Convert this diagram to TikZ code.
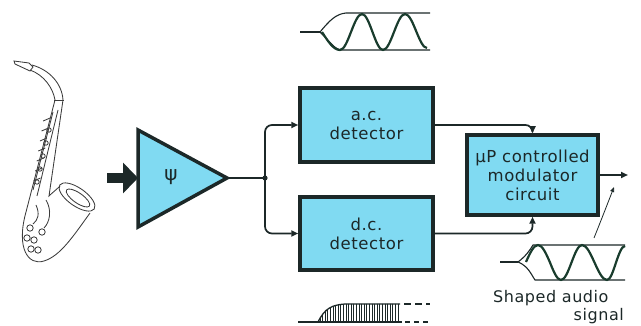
\documentclass[tikz,border=0pt]{standalone}
\usepackage{fontspec}
\setmainfont{DejaVu Sans}[LetterSpace=3.5]
\usetikzlibrary{arrows.meta}
\definecolor{boxfill}{RGB}{128,218,242}
\definecolor{ink}{RGB}{28,40,40}
\definecolor{wave}{RGB}{25,60,45}
\definecolor{sketch}{RGB}{60,60,60}
\tikzset{
  block/.style={draw=ink, line width=3.5pt, fill=boxfill, align=center,
    font=\fontsize{16.5}{19}\selectfont, text=ink, inner sep=0pt},
  wire/.style={draw=ink, line width=1.7pt, rounded corners=7pt},
  tip/.style={-{Triangle[length=7pt,width=6pt]}},
  thinline/.style={draw=ink, line width=1.1pt},
  sax/.style={draw=sketch, line width=0.85pt},
  caption/.style={font=\fontsize{16}{18}\selectfont, text=ink},
}
\begin{document}
\begin{tikzpicture}[x=1pt,y=-1pt]
\useasboundingbox (0,0) rectangle (641,326);

% ---------- saxophone sketch ----------
\begin{scope}[sax]
  % mouthpiece
  \draw (14,61) -- (29,63) -- (33,67) -- (30,71) -- (15,64) -- cycle;
  % neck
  \draw (32,65) .. controls (50,70) and (62,84) .. (63,100);
  \draw (30,70) .. controls (44,75) and (53,88) .. (55,100);
  \draw (54,100) -- (64,100);
  % body
  \draw (55,100) -- (26,212) .. controls (16,248) and (28,266) .. (44,261)
        .. controls (60,256) and (72,238) .. (90,213);
  \draw (63,100) -- (49,196) .. controls (52,193) and (56,190) .. (60,186);
  % bell
  \draw[rotate around={-35:(77,197)}] (77,197) ellipse (21 and 9);
  \draw[rotate around={-35:(78,198)}] (78,198) ellipse (14 and 5);
  % key rods and keys
  \draw (58,110) -- (37,196);
  \draw (53,112) -- (33,190);
  \foreach \y in {118,128,138,148,158,168,178}{
    \draw (69-\y*0.16,\y) -- ++(-7,3);
  }
  \foreach \p in {(49,130),(46,143),(43,156),(40,169),(37,182)}{
    \draw \p circle (2.2);
  }
  \foreach \p in {(30,228),(27,238),(34,240),(31,249),(38,250),(42,232)}{
    \draw \p circle (3.2);
  }
  \draw (46,200) .. controls (52,210) and (50,222) .. (44,228);
  \draw (36,205) .. controls (40,214) and (38,220) .. (33,224);
\end{scope}

% ---------- fat input arrow ----------
\coordinate (inA) at (107,178);
\coordinate (inB) at (138,178);
\draw[ink, line width=10pt, -{Triangle[length=15pt,width=30pt]}] (inA) -- (inB);

% ---------- amplifier ----------
\coordinate (ampT) at (138,130);
\coordinate (ampB) at (138,227);
\coordinate (ampO) at (227,178);
\draw[draw=ink, line width=3.5pt, fill=boxfill, line join=miter]
  (ampT) -- (ampO) -- (ampB) -- cycle;
\node[font=\fontsize{20}{22}\selectfont, text=ink] (psi) at (171,177) {ψ};

% ---------- blocks ----------
\node[block, minimum width=133pt, minimum height=74pt] (ac) at (366.5,125) {a.c.\\detector};
\node[block, minimum width=133pt, minimum height=73pt] (dc) at (366.5,233.5) {d.c.\\detector};
\node[block, minimum width=131pt, minimum height=80pt] (mod) at (532.5,175)
  {µP controlled\\modulator\\circuit};

% ---------- connectors ----------
\coordinate (jn) at (265,178);
\draw[wire] (ampO) -- (jn);
\fill[ink] (jn) circle (2.6pt);
\draw[wire, tip] (jn) |- (ac.west);
\draw[wire, tip] (jn) |- (dc.west);
\draw[wire, tip] (ac.east) -| (mod.north);
\draw[wire, tip] (dc.east) -| (mod.south);
\coordinate (out) at (628,175);
\draw[wire, tip] (mod.east) -- (out);

% ---------- a.c. waveform ----------
\coordinate (acL) at (300,32);
\coordinate (acF) at (320,32);
\draw[thinline] (acL) -- (acF);
\draw[thinline] (acF) .. controls (330,20) and (336,14) .. (346,13) -- (430,13);
\draw[thinline] (acF) .. controls (330,42) and (334,48) .. (340,50) -- (430,50);
\draw[wave, line width=2.2pt] (322,32) sin (340,50) cos (351,32) sin (362,14)
  cos (372.5,32) sin (383,50) cos (394,32) sin (405,14) cos (416.5,32) sin (427,48);

% ---------- shaped output waveform ----------
\coordinate (shL) at (500,262);
\coordinate (shF) at (518,262);
\draw[thinline] (shL) -- (shF);
\draw[thinline] (shF) .. controls (526,256) and (530,250) .. (533,245) -- (625,245);
\draw[thinline] (shF) .. controls (528,266) and (531,274) .. (535,280) -- (625,280);
\draw[wave, line width=2.2pt] (526,262) sin (538,245) cos (550,262.5) sin (561,280)
  cos (571.5,262.5) sin (582,245) cos (594.5,262.5) sin (607,280) cos (616,262.5) sin (625,246);
\node[caption, anchor=base west, inner sep=0pt] (lbl1) at (493,303) {Shaped audio};
\node[caption, anchor=base east, inner sep=0pt] (lbl2) at (624,320) {signal};
\coordinate (lblpt) at (594,238);
\coordinate (lbltip) at (614,187);
\draw[thinline, line width=0.8pt, -{Triangle[length=5pt,width=4pt]}]
  (lblpt) .. controls (602,218) and (609,200) .. (lbltip);

% ---------- d.c. waveform ----------
\coordinate (dcL) at (298,322);
\coordinate (dcF) at (318,322);
\draw[thinline] (dcL) -- (dcF) -- (402,322);
\draw[thinline, dash pattern=on 5pt off 4pt] (405,322) -- (430,322);
\draw[thinline, line width=1.3pt] (dcF) .. controls (325,308) and (332,305) .. (345,304) -- (400,304);
\draw[thinline, dash pattern=on 7pt off 4pt] (404,304) -- (430,304);
\begin{scope}
  \clip (dcF) .. controls (325,308) and (332,305) .. (345,304) -- (400,304) -- (400,322) -- cycle;
  \foreach \x in {320,322.6,...,400}{
    \draw[ink, line width=0.8pt] (\x,300) -- (\x,323);
  }
\end{scope}
\end{tikzpicture}
\end{document}
